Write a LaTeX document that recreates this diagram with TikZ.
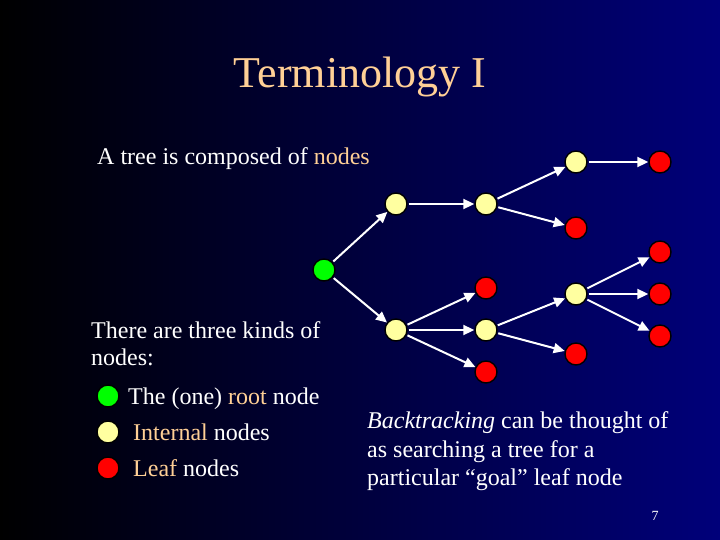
\documentclass[tikz,border=0pt]{standalone}
\usepackage{fontspec}
\setmainfont{Liberation Serif}
\usetikzlibrary{arrows.meta}
\definecolor{tan}{RGB}{255,208,150}
\definecolor{navy}{RGB}{0,0,122}
\definecolor{pale}{RGB}{255,255,160}
\tikzset{
  dot/.style={circle,draw=black,line width=1.4pt,minimum size=22pt,inner sep=0pt},
  rootdot/.style={dot,fill=green},
  innerdot/.style={dot,fill=pale},
  leafdot/.style={dot,fill=red},
  link/.style={white,line width=2pt,-{Triangle[length=11pt,width=10pt]},shorten <=1pt},
  txt/.style={white,anchor=base west,inner sep=0pt,font=\fontsize{24}{28}\selectfont}
}
\begin{document}
\begin{tikzpicture}[x=1pt,y=-1pt]
  % background
  \shade[left color=black,right color=navy] (0,0) rectangle (720,540);
  \useasboundingbox (0,0) rectangle (720,540);
  % title
  \node[tan,font=\fontsize{44}{48}\selectfont,anchor=base] (title) at (360,88) {Terminology I};
  % text
  \node[txt] (intro) at (97,165) {A tree is composed of \textcolor{tan}{nodes}};
  \node[txt] (kinds) at (91,338) {There are three kinds of};
  \node[txt] (kinds2) at (91,365) {nodes:};
  \node[rootdot] (lroot) at (108,396) {};
  \node[innerdot] (linner) at (108,432) {};
  \node[leafdot] (lleaf) at (108,468) {};
  \node[txt] (troot) at (128,404) {The (one) \textcolor{tan}{root} node};
  \node[txt] (tinner) at (133,440) {\textcolor{tan}{Internal} nodes};
  \node[txt] (tleaf) at (133,476) {\textcolor{tan}{Leaf} nodes};
  \node[txt] (bt1) at (367,428) {\textit{Backtracking} can be thought of};
  \node[txt] (bt2) at (367,457) {as searching a tree for a};
  \node[txt] (bt3) at (367,485) {particular “goal” leaf node};
  \node[white,font=\fontsize{14}{16}\selectfont] (page) at (655,516) {7};
  % tree
  \node[rootdot] (r) at (324,270) {};
  \node[innerdot] (a) at (396,204) {};
  \node[innerdot] (b) at (396,330) {};
  \node[innerdot] (c) at (486,204) {};
  \node[innerdot] (d) at (576,162) {};
  \node[leafdot] (d1) at (660,162) {};
  \node[leafdot] (c1) at (576,228) {};
  \node[leafdot] (b1) at (486,288) {};
  \node[innerdot] (e) at (486,330) {};
  \node[leafdot] (b3) at (486,372) {};
  \node[innerdot] (f) at (576,294) {};
  \node[leafdot] (e1) at (576,354) {};
  \node[leafdot] (f1) at (660,252) {};
  \node[leafdot] (f2) at (660,294) {};
  \node[leafdot] (f3) at (660,336) {};
  \foreach \u/\v in {r/a,r/b,a/c,c/d,c/c1,d/d1,b/b1,b/e,b/b3,e/f,e/e1,f/f1,f/f2,f/f3}
    \draw[link] (\u) -- (\v);
\end{tikzpicture}
\end{document}
